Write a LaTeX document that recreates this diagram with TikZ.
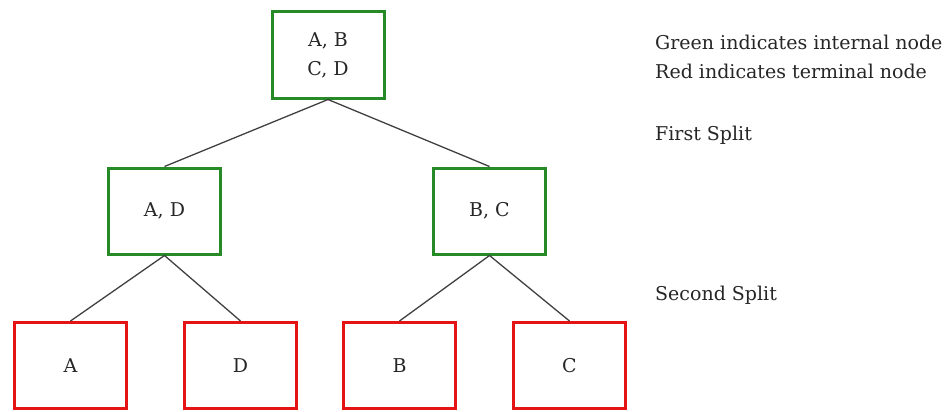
\documentclass[tikz,border=0pt]{standalone}
\usepackage{fontspec}
\setmainfont{DejaVu Serif}
\definecolor{innergreen}{RGB}{38,138,38}
\definecolor{leafred}{RGB}{228,20,20}
\begin{document}
\begin{tikzpicture}[x=1pt,y=-1pt,
  every node/.style={font=\fontsize{19}{29}\selectfont, text=black!85},
  treebox/.style={draw, line width=3pt, minimum width=112pt, minimum height=86pt, inner sep=0pt, align=center},
  inner/.style={treebox, draw=innergreen},
  leaf/.style={treebox, draw=leafred},
  edge/.style={draw=black!75, line width=1.3pt},
  note/.style={anchor=west, inner sep=0pt, align=left}]
\useasboundingbox (0,0) rectangle (950,412);
% tree
\node[inner] (root) at (328,55) {A, B\\C, D};
\node[inner] (ad) at (164.5,211) {A, D};
\node[inner] (bc) at (489.5,211) {B, C};
\node[leaf] (a) at (70.5,365.5) {A};
\node[leaf] (d) at (240.5,365.5) {D};
\node[leaf] (b) at (399.5,365.5) {B};
\node[leaf] (c) at (569.5,365.5) {C};
\draw[edge] (root.south) -- (ad.north);
\draw[edge] (root.south) -- (bc.north);
\draw[edge] (ad.south) -- (a.north);
\draw[edge] (ad.south) -- (d.north);
\draw[edge] (bc.south) -- (b.north);
\draw[edge] (bc.south) -- (c.north);
% legend and level labels
\node[note] (legend) at (655,57) {Green indicates internal node\\Red indicates terminal node};
\node[note] (first) at (655,135) {First Split};
\node[note] (second) at (655,295) {Second Split};
\end{tikzpicture}
\end{document}
